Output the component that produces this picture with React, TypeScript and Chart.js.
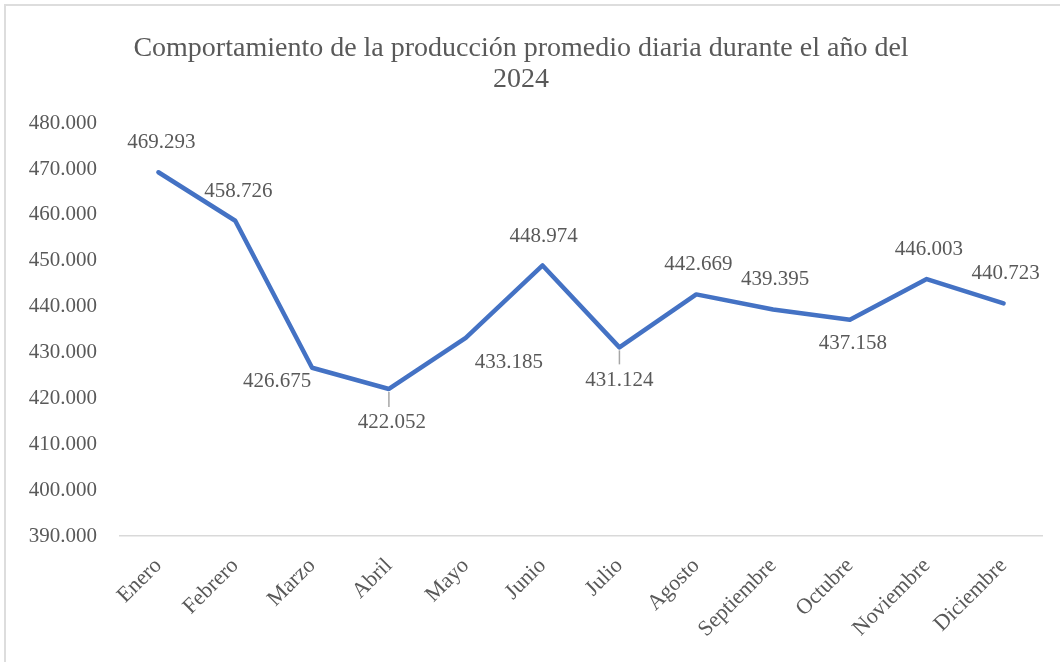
import React, { useEffect, useRef } from 'react';
import { Chart, registerables } from 'chart.js';

Chart.register(...registerables);

// ---- Data ----
const MONTHS = [
  'Enero', 'Febrero', 'Marzo', 'Abril', 'Mayo', 'Junio',
  'Julio', 'Agosto', 'Septiembre', 'Octubre', 'Noviembre', 'Diciembre',
];
const PRODUCTION = [
  469293, 458726, 426675, 422052, 433185, 448974,
  431124, 442669, 439395, 437158, 446003, 440723,
];
const Y_MIN = 390000;
const Y_MAX = 480000;
const Y_STEP = 10000;
const TITLE_LINES = [
  'Comportamiento de la producción promedio diaria durante el año del',
  '2024',
];

// ---- Style ----
const FONT = '"Liberation Serif", "Times New Roman", serif';
const TEXT = '#595959';
const LINE = '#4472C4';

// label offsets relative to each point (dx, dy), mimicking Excel's placement
const LABEL_OFFSETS: [number, number][] = [
  [3, -30], [3, -29], [-35, 14], [3, 34], [43, 25], [1, -29],
  [0, 33], [2, -30], [2, -30], [3, 24], [2, -30], [2, -30],
];
const LEADER = [false, false, false, true, false, false, true, false, false, false, false, false];

const fmt = (n: number) => String(Math.round(n)).replace(/\B(?=(\d{3})+(?!\d))/g, '.');

const dataLabelPlugin = {
  id: 'dataLabels',
  afterDatasetsDraw(chart: any) {
    const ctx = chart.ctx;
    const meta = chart.getDatasetMeta(0);
    ctx.save();
    ctx.font = `21px ${FONT}`;
    ctx.fillStyle = TEXT;
    ctx.textAlign = 'center';
    ctx.textBaseline = 'middle';
    meta.data.forEach((pt: any, i: number) => {
      const [dx, dy] = LABEL_OFFSETS[i];
      const x = pt.x + dx;
      const y = pt.y + dy;
      if (LEADER[i]) {
        ctx.beginPath();
        ctx.strokeStyle = '#A6A6A6';
        ctx.lineWidth = 1.5;
        ctx.moveTo(pt.x, pt.y + 3);
        ctx.lineTo(pt.x, y - 16);
        ctx.stroke();
      }
      ctx.fillText(fmt(PRODUCTION[i]), x, y);
    });
    ctx.restore();
  },
};

export default function App() {
  const ref = useRef<HTMLCanvasElement | null>(null);

  useEffect(() => {
    if (!ref.current) return;
    const chart = new Chart(ref.current, {
      type: 'line',
      data: {
        labels: MONTHS,
        datasets: [
          {
            data: PRODUCTION,
            borderColor: LINE,
            backgroundColor: LINE,
            borderWidth: 4.5,
            pointRadius: 0,
            tension: 0,
            borderJoinStyle: 'round',
            borderCapStyle: 'round',
          },
        ],
      },
      options: {
        responsive: false,
        animation: false,
        devicePixelRatio: 1,
        layout: { padding: { left: 0, right: 18, top: 0, bottom: 0 } },
        plugins: {
          legend: { display: false },
          tooltip: { enabled: false },
          title: {
            display: true,
            text: TITLE_LINES,
            color: TEXT,
            font: { family: FONT, size: 28, weight: 'normal', lineHeight: 1.11 },
            padding: { top: 33.5, bottom: 27.5 },
          },
        },
        scales: {
          x: {
            type: 'category',
            offset: true,
            grid: { display: false, drawTicks: false },
            border: { display: true, color: '#D9D9D9', width: 1.5 },
            ticks: {
              color: TEXT,
              font: { family: FONT, size: 22 },
              minRotation: 45,
              maxRotation: 45,
              autoSkip: false,
              padding: 17,
            },
            afterFit: (s: any) => {
              s.height = 126;
            },
          },
          y: {
            min: Y_MIN,
            max: Y_MAX,
            grid: { display: false, drawTicks: false },
            border: { display: false },
            ticks: {
              stepSize: Y_STEP,
              color: TEXT,
              font: { family: FONT, size: 21 },
              padding: 23,
              callback: (v: any) => fmt(Number(v)),
            },
            afterFit: (s: any) => {
              s.width = 120;
            },
          },
        },
      } as any,
      plugins: [dataLabelPlugin],
    });
    return () => chart.destroy();
  }, []);

  return (
    <div style={{ position: 'fixed', left: 0, top: 0, width: 1060, height: 662, background: '#fff', overflow: 'hidden' }}>
      <div
        style={{
          position: 'absolute',
          left: 4,
          top: 4,
          width: 1100,
          height: 700,
          border: '2px solid #DDDDDD',
        }}
      />
      <canvas ref={ref} width={1060} height={662} style={{ position: 'absolute', left: 0, top: 0 }} />
    </div>
  );
}
